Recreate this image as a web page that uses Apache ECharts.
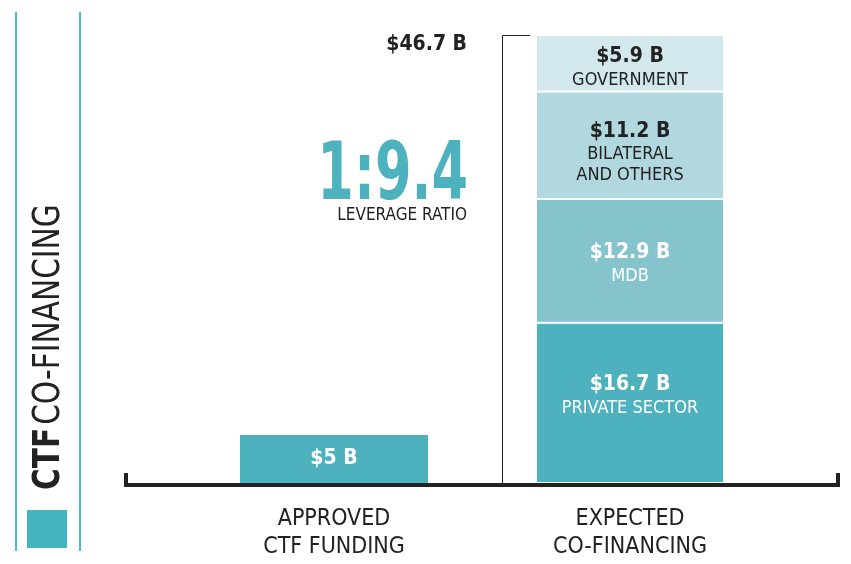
<!DOCTYPE html>
<html>
<head>
<meta charset="utf-8">
<style>
  html, body { margin: 0; padding: 0; background: #fff; }
  #chart { width: 851px; height: 564px; }
</style>
<script src="https://cdn.jsdelivr.net/npm/echarts@6/dist/echarts.min.js"></script>
</head>
<body>
<div id="chart"></div>
<script>
// data
const categories = ['APPROVED\nCTF FUNDING', 'EXPECTED\nCO-FINANCING'];
const approved = [5, '-'];
const segNames = ['PRIVATE SECTOR', 'MDB', 'BILATERAL\nAND OTHERS', 'GOVERNMENT'];
const segValues = [16.7, 12.9, 11.2, 5.9];
const ratioText = '1:9.4';

const FONT = "'DejaVu Sans Condensed', Roboto, sans-serif";
const segColors = ['#4db2bd', '#86c4cd', '#b0d8de', '#d3e8ec'];
const segText = ['#fff', '#fff', '#222', '#222'];
const segLabelShift = [-8, 2, 7, 4];
const total = segValues.reduce((a, b) => a + b, 0);

const chart = echarts.init(document.getElementById('chart'));

// 标签富文本
const richFor = (color) => ({
  v: { fontFamily: FONT, fontWeight: 'bold', fontSize: 21, color: color, lineHeight: 26 },
  n: { fontFamily: FONT, fontSize: 18, color: color, lineHeight: 21 }
});

const series = [{
  name: 'approved',
  type: 'bar',
  stack: 'all',
  barWidth: 188,
  data: approved,
  itemStyle: { color: '#4db2bd' },
  label: {
    show: true, position: 'inside',
    formatter: (p) => '{v|$' + p.value + ' B}',
    rich: richFor('#fff')
  }
}];
segValues.forEach((v, i) => {
  series.push({
    name: segNames[i],
    type: 'bar',
    stack: 'all',
    barWidth: 188,
    data: ['-', v],
    itemStyle: { color: segColors[i], borderColor: '#fff', borderWidth: 1 },
    label: {
      show: true, position: 'inside', offset: [0, segLabelShift[i]],
      formatter: () => '{v|$' + v + ' B}\n' + segNames[i].split('\n').map(s => '{n|' + s + '}').join('\n'),
      rich: richFor(segText[i])
    }
  });
});

chart.setOption({
  animation: false,
  grid: { left: 186, right: 73, top: 35, bottom: 81 },
  xAxis: {
    type: 'category',
    data: categories,
    axisLine: { show: false },
    axisTick: { show: false },
    axisLabel: { fontFamily: FONT, fontSize: 23, color: '#222', lineHeight: 28, margin: 22 }
  },
  yAxis: { type: 'value', min: 0, max: total, show: false },
  series: series
});

// 装饰：基线、括号、文字
const yBase = chart.convertToPixel({ yAxisIndex: 0 }, 0);
const yTop = Math.round(chart.convertToPixel({ yAxisIndex: 0 }, total)) + 0.5;
const xMid = Math.round((chart.convertToPixel({ xAxisIndex: 0 }, categories[0]) + chart.convertToPixel({ xAxisIndex: 0 }, categories[1])) / 2) + 20.5;
const x2 = chart.convertToPixel({ xAxisIndex: 0 }, categories[1]);

chart.setOption({
  graphic: [
    // 左侧竖线
    { type: 'line', shape: { x1: 16, y1: 12, x2: 16, y2: 551 }, style: { stroke: '#4cbcc4', lineWidth: 2 } },
    { type: 'line', shape: { x1: 80, y1: 12, x2: 80, y2: 551 }, style: { stroke: '#4cbcc4', lineWidth: 2 } },
    { type: 'rect', shape: { x: 27, y: 510, width: 40, height: 38 }, style: { fill: '#45b5bd' } },
    {
      type: 'text', x: 49, y: 490, rotation: Math.PI / 2, scaleX: 0.89,
      style: {
        text: '{b|CTF} {r|CO-FINANCING}',
        rich: {
          b: { fontFamily: FONT, fontWeight: 'bold', fontSize: 37, fill: '#222' },
          r: { fontFamily: FONT, fontSize: 37, fill: '#222' }
        },
        verticalAlign: 'middle', align: 'left'
      }
    },
    // 基线
    { type: 'polyline', shape: { points: [[126, yBase - 10], [126, yBase + 2], [838, yBase + 2], [838, yBase - 10]] },
      style: { stroke: '#222', lineWidth: 4, fill: null } },
    // 括号
    { type: 'polyline', shape: { points: [[x2 - 100, yTop], [xMid, yTop], [xMid, yBase]] },
      style: { stroke: '#222', lineWidth: 1, fill: null } },
    { type: 'text', x: 467, y: yTop + 9,
      style: { text: '$' + total.toFixed(1) + ' B', fontFamily: FONT, fontWeight: 'bold', fontSize: 21, fill: '#222', align: 'right', verticalAlign: 'middle' } },
    { type: 'text', x: 468, y: 218, scaleX: 0.73,
      style: { text: ratioText, fontFamily: FONT, fontWeight: 'bold', fontSize: 80, fill: '#4db2bd', align: 'right', verticalAlign: 'bottom' } },
    { type: 'text', x: 467, y: 216,
      style: { text: 'LEVERAGE RATIO', fontFamily: FONT, fontSize: 17, fill: '#222', align: 'right', verticalAlign: 'middle' } }
  ]
});
</script>
</body>
</html>
